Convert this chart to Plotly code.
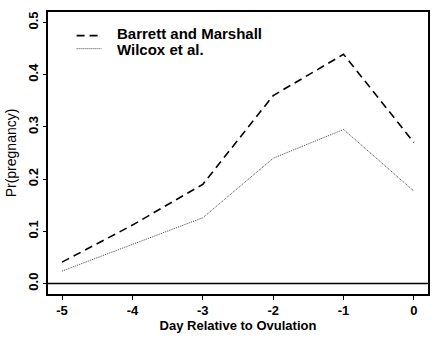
import plotly.graph_objects as go

days = [-5, -4, -3, -2, -1, 0]
barrett = [0.041, 0.112, 0.190, 0.360, 0.439, 0.270]
wilcox = [0.024, 0.075, 0.126, 0.240, 0.295, 0.177]
xticks = [-5, -4, -3, -2, -1, 0]
yticks = [0.0, 0.1, 0.2, 0.3, 0.4, 0.5]
ytick_labels = ["0.0", "0.1", "0.2", "0.3", "0.4", "0.5"]
series_names = ["Barrett and Marshall", "Wilcox et al."]

dash_b = dict(color="black", width=1.6, dash="8px,5px")
dash_w = dict(color="#444444", width=1, dash="1px,1px")

fig = go.Figure()
fig.add_trace(go.Scatter(x=days, y=barrett, mode="lines", name=series_names[0], line=dash_b))
fig.add_trace(go.Scatter(x=days, y=wilcox, mode="lines", name=series_names[1], line=dash_w))
fig.add_hline(y=0, line=dict(color="black", width=1.5))

# legend drawn as decoration (paper coordinates)
leg_x0, leg_x1, txt_x = 0.0753, 0.1403, 0.179
leg_rows = [(0.9164, 0.9251, dash_b), (0.870, 0.8676, dash_w)]
for name, (ly, ty, ln) in zip(series_names, leg_rows):
    fig.add_shape(type="line", xref="paper", yref="paper", x0=leg_x0, x1=leg_x1,
                  y0=ly, y1=ly, line=ln)
    fig.add_annotation(xref="paper", yref="paper", x=txt_x, y=ty, text=name,
                       showarrow=False, xanchor="left", yanchor="middle", borderpad=0,
                       font=dict(size=15, weight="bold"))

font = "Liberation Sans, Arial, sans-serif"
fig.update_layout(
    width=440, height=341,
    margin=dict(l=43, r=12, t=10, b=44),
    paper_bgcolor="white", plot_bgcolor="white",
    font=dict(family=font, color="black"),
    showlegend=False,
    xaxis=dict(range=[-5.2, 0.2], tickvals=xticks, ticktext=[str(v) for v in xticks],
               showgrid=False, zeroline=False, showline=True, linecolor="black", linewidth=1.5,
               mirror=True, ticks="outside", ticklen=4, tickcolor="black",
               tickfont=dict(size=13, weight="bold"),
               title=dict(text="Day Relative to Ovulation", font=dict(size=13, weight="bold"), standoff=4)),
    yaxis=dict(range=[-0.02, 0.52], tickvals=yticks, ticktext=ytick_labels,
               showgrid=False, zeroline=False, showline=True, linecolor="black", linewidth=1.5,
               mirror=True, ticks="outside", ticklen=3, tickcolor="black", tickangle=-90,
               tickfont=dict(size=13, weight="bold"),
               title=dict(text="Pr(pregnancy)", font=dict(size=14), standoff=6)),
)
fig.write_html("out.html")
